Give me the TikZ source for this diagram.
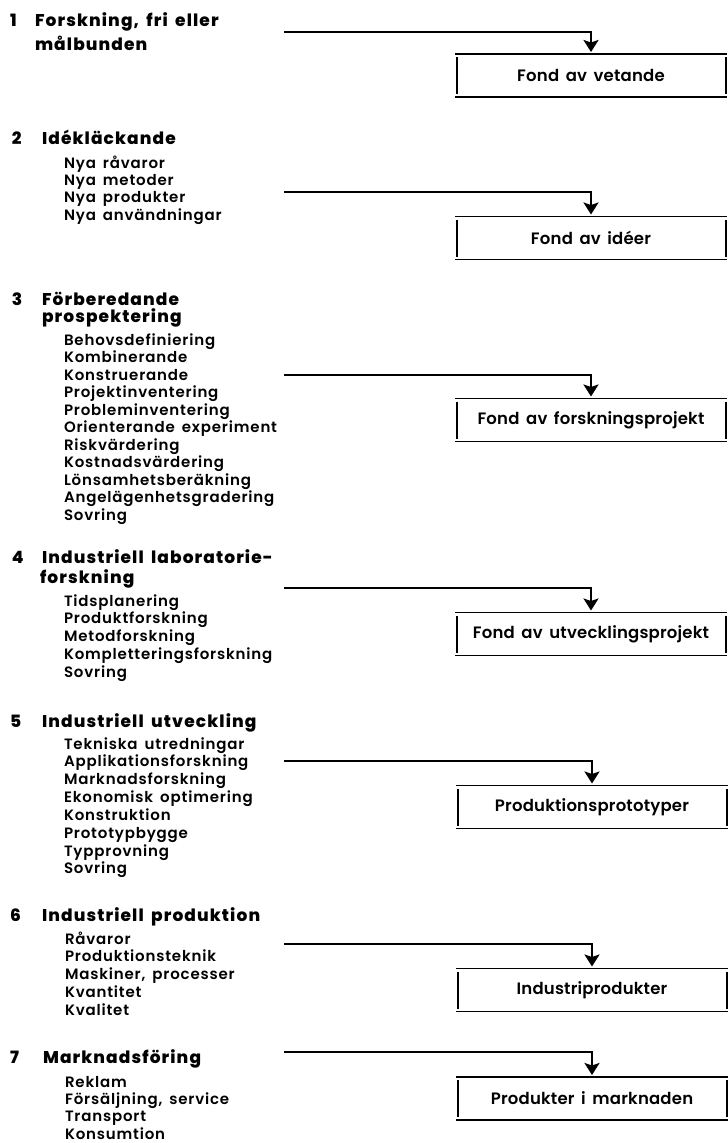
\documentclass[tikz,border=0pt]{standalone}
\usepackage{fontspec}
\setmainfont{Poppins}
\newfontfamily\itemfont{Poppins}[UprightFont=* SemiBold, LetterSpace=5.5, WordSpace=1.6]
\newfontfamily\headfont{Poppins}[UprightFont=* ExtraBold, LetterSpace=6.5, WordSpace=1.7]
\newfontfamily\boxfont{Poppins}[UprightFont=* SemiBold, LetterSpace=1.2, WordSpace=1.6]
\usetikzlibrary{arrows.meta}
\tikzset{
  every node/.style={inner sep=0pt, outer sep=0pt},
  head/.style={anchor=base west, font=\fontsize{17}{20}\headfont},
  num/.style={anchor=base west, font=\fontsize{17}{20}\headfont},
  itm/.style={anchor=base west, font=\fontsize{15}{17}\itemfont},
  fund/.style={minimum width=272pt, minimum height=43pt, font=\fontsize{16.5}{18}\boxfont},
  flow/.style={line width=2.8pt, -{Stealth[length=12pt,width=15pt,inset=2.5pt]}, shorten >=2pt},
  frame/.style={line width=1.5pt},
}
\newcommand{\fundbox}[1]{%
  \draw[frame] (#1.north west) -- (#1.north east);
  \draw[frame] (#1.south west) -- (#1.south east);
  \draw[frame] ([xshift=2pt,yshift=-3pt]#1.north west) -- ([xshift=2pt,yshift=3pt]#1.south west);
  \draw[frame] ([xshift=-1pt,yshift=-3pt]#1.north east) -- ([xshift=-1pt,yshift=3pt]#1.south east);
}
\begin{document}
\begin{tikzpicture}[x=1pt,y=-1pt]
\useasboundingbox (0,0) rectangle (728,1143);
% ---------- 1
\node[num] (n1) at (10,27) {1};
\node[head] (h1a) at (35,27) {Forskning, fri eller};
\node[head] (h1b) at (35,50) {målbunden};
\coordinate (l1) at (284,32);
\node[fund] (b1) at (591,75.5) {Fond av vetande};
\fundbox{b1}
\draw[flow] (l1) -| (b1.north);
% ---------- 2
\node[num] (n2) at (12,144) {2};
\node[head] (h2) at (42,144) {Idékläckande};
\foreach \t [count=\i] in {Nya råvaror, Nya metoder, Nya produkter, Nya användningar}
  \node[itm] (i2-\i) at (64,{168+17.4*(\i-1)}) {\t};
\coordinate (l2) at (284,192);
\node[fund] (b2) at (591,238) {Fond av idéer};
\fundbox{b2}
\draw[flow] (l2) -| (b2.north);
% ---------- 3
\node[num] (n3) at (12,305) {3};
\node[head] (h3a) at (42,305) {Förberedande};
\node[head] (h3b) at (42,322) {prospektering};
\foreach \t [count=\i] in {Behovsdefiniering, Kombinerande, Konstruerande, Projektinventering, Probleminventering, Orienterande experiment, Riskvärdering, Kostnadsvärdering, Lönsamhetsberäkning, Angelägenhetsgradering, Sovring}
  \node[itm] (i3-\i) at (64,{345+17.5*(\i-1)}) {\t};
\coordinate (l3) at (284,375);
\node[fund] (b3) at (591,420) {Fond av forskningsprojekt};
\fundbox{b3}
\draw[flow] (l3) -| (b3.north);
% ---------- 4
\node[num] (n4) at (12,563) {4};
\node[head] (h4a) at (42,563) {Industriell laboratorie-};
\node[head] (h4b) at (40,583) {forskning};
\foreach \t [count=\i] in {Tidsplanering, Produktforskning, Metodforskning, Kompletteringsforskning, Sovring}
  \node[itm] (i4-\i) at (64,{606+17.8*(\i-1)}) {\t};
\coordinate (l4) at (284,588);
\node[fund] (b4) at (591,634) {Fond av utvecklingsprojekt};
\fundbox{b4}
\draw[flow] (l4) -| (b4.north);
% ---------- 5
\node[num] (n5) at (10,727) {5};
\node[head] (h5) at (42,727) {Industriell utveckling};
\foreach \t [count=\i] in {Tekniska utredningar, Applikationsforskning, Marknadsforskning, Ekonomisk optimering, Konstruktion, Prototypbygge, Typprovning, Sovring}
  \node[itm] (i5-\i) at (64,{749+17.85*(\i-1)}) {\t};
\coordinate (l5) at (284,761);
\node[fund] (b5) at (592,807) {Produktionsprototyper};
\fundbox{b5}
\draw[flow] (l5) -| (b5.north);
% ---------- 6
\node[num] (n6) at (10,921) {6};
\node[head] (h6) at (42,921) {Industriell produktion};
\foreach \t [count=\i] in {Råvaror, Produktionsteknik, {Maskiner, processer}, Kvantitet, Kvalitet}
  \node[itm] (i6-\i) at (65,{944+17.75*(\i-1)}) {\t};
\coordinate (l6) at (284,944);
\node[fund] (b6) at (592,990) {Industriprodukter};
\fundbox{b6}
\draw[flow] (l6) -| (b6.north);
% ---------- 7
\node[num] (n7) at (10,1063) {7};
\node[head] (h7) at (43,1063) {Marknadsföring};
\foreach \t [count=\i] in {Reklam, {Försäljning, service}, Transport, Konsumtion}
  \node[itm] (i7-\i) at (65,{1087+17.4*(\i-1)}) {\t};
\coordinate (l7) at (284,1052);
\node[fund] (b7) at (592,1098.5) {Produkter i marknaden};
\fundbox{b7}
\draw[flow] (l7) -| (b7.north);
\end{tikzpicture}
\end{document}
